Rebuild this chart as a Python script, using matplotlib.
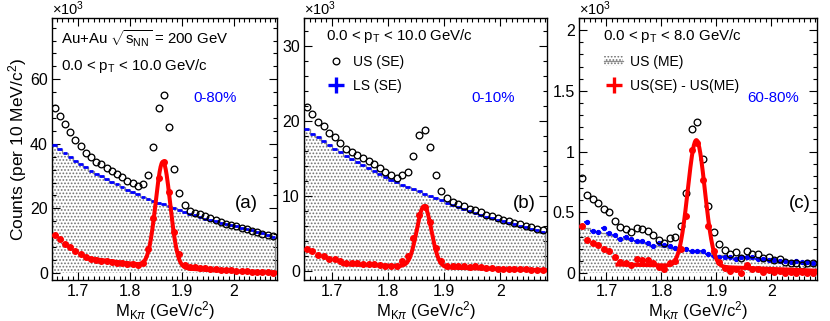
import numpy as np
import matplotlib
matplotlib.use('Agg')
import matplotlib.pyplot as plt
from matplotlib.ticker import MultipleLocator, FormatStrFormatter
from matplotlib.patches import Patch
from matplotlib.lines import Line2D

plt.rcParams['font.family'] = ['Liberation Sans', 'DejaVu Sans']
plt.rcParams['mathtext.fontset'] = 'custom'
plt.rcParams['mathtext.rm'] = 'Liberation Sans'
plt.rcParams['mathtext.it'] = 'Liberation Sans:italic'
plt.rcParams['mathtext.bf'] = 'Liberation Sans:bold'
plt.rcParams['hatch.linewidth'] = 0.8

# bin centres of M_Kpi (GeV/c^2), 10 MeV bins
mass = [1.655, 1.665, 1.675, 1.685, 1.695, 1.705, 1.715, 1.725, 1.735, 1.745,
        1.755, 1.765, 1.775, 1.785, 1.795, 1.805, 1.815, 1.825, 1.835, 1.845,
        1.855, 1.865, 1.875, 1.885, 1.895, 1.905, 1.915, 1.925, 1.935, 1.945,
        1.955, 1.965, 1.975, 1.985, 1.995, 2.005, 2.015, 2.025, 2.035, 2.045,
        2.055, 2.065, 2.075]

# panel (a) 0-80%, counts x10^3
us_a = [51.0, 48.5, 46.0, 43.6, 41.3, 39.2, 37.2, 35.8, 34.4, 33.6,
        32.6, 31.7, 30.8, 29.7, 28.6, 27.9, 26.9, 27.4, 30.2, 38.9,
        51.0, 55.2, 45.2, 32.3, 24.7, 20.9, 19.3, 18.7, 18.2, 17.5,
        16.9, 16.4, 15.7, 15.2, 14.8, 14.4, 14.0, 13.6, 13.1, 12.7,
        12.2, 11.8, 11.4]
ls_a = [39.5, 38.3, 37.1, 35.9, 34.8, 33.7, 32.7, 31.7, 30.8, 29.9,
        29.0, 28.2, 27.4, 26.6, 25.8, 25.0, 24.3, 23.6, 23.0, 22.4,
        21.8, 21.2, 20.6, 20.0, 19.4, 18.8, 18.3, 17.8, 17.3, 16.8,
        16.4, 16.0, 15.6, 15.2, 14.8, 14.4, 14.0, 13.6, 13.2, 12.8,
        12.3, 11.8, 11.2]
me_a = ls_a
sig_a = [11.7, 10.4, 9.1, 8.0, 6.8, 5.8, 5.0, 4.4, 4.0, 3.8,
         3.6, 3.4, 3.1, 3.0, 2.8, 2.7, 2.6, 3.2, 7.5, 17.0,
         29.5, 34.5, 25.0, 12.8, 5.8, 2.6, 1.9, 1.8, 1.6, 1.5,
         1.3, 1.2, 1.0, 0.9, 0.8, 0.7, 0.6, 0.5, 0.4, 0.3,
         0.3, 0.2, 0.1]
# fit: amplitude, mean, sigma, residual bkg p0, p1, p2 (in m - 1.72)
fit_a = [32.5, 1.8635, 0.014, 4.5, -21.6, 26.1]

# panel (b) 0-10%
us_b = [21.8, 20.9, 19.9, 19.3, 18.4, 17.9, 17.1, 16.3, 15.9, 15.5,
        15.0, 14.6, 14.2, 13.7, 13.2, 12.8, 12.4, 12.8, 13.2, 15.3,
        18.1, 18.8, 16.5, 12.8, 10.7, 9.7, 9.2, 8.9, 8.6, 8.2,
        8.1, 7.8, 7.5, 7.3, 7.0, 6.8, 6.6, 6.4, 6.2, 6.0,
        5.8, 5.6, 5.5]
ls_b = [18.9, 18.3, 17.8, 17.3, 16.8, 16.3, 15.8, 15.3, 14.9, 14.5,
        14.1, 13.7, 13.3, 12.9, 12.5, 12.1, 11.8, 11.5, 11.2, 10.9,
        10.6, 10.3, 10.0, 9.7, 9.4, 9.1, 8.8, 8.5, 8.2, 8.0,
        7.7, 7.5, 7.2, 7.0, 6.8, 6.6, 6.4, 6.2, 6.0, 5.8,
        5.6, 5.4, 5.2]
me_b = ls_b
sig_b = [2.9, 2.6, 2.1, 2.0, 1.6, 1.6, 1.3, 1.0, 1.0, 1.0,
         0.9, 0.9, 0.9, 0.8, 0.7, 0.7, 0.6, 1.3, 2.0, 4.4,
         7.5, 8.5, 6.5, 3.1, 1.3, 0.6, 0.7, 0.6, 0.6, 0.5,
         0.6, 0.5, 0.4, 0.4, 0.3, 0.3, 0.3, 0.2, 0.2, 0.2,
         0.1, 0.1, 0.1]
fit_b = [8.1, 1.864, 0.013, 0.9, -2.61, 1.07]

# panel (c) 60-80%
us_c = [0.78, 0.64, 0.61, 0.58, 0.53, 0.50, 0.43, 0.38, 0.36, 0.34,
        0.37, 0.36, 0.35, 0.31, 0.27, 0.25, 0.29, 0.30, 0.39, 0.66,
        1.19, 1.24, 0.94, 0.55, 0.34, 0.24, 0.19, 0.16, 0.175, 0.125,
        0.18, 0.155, 0.155, 0.125, 0.134, 0.107, 0.12, 0.093, 0.08, 0.085,
        0.066, 0.08, 0.08]
ls_c = [0.39, 0.42, 0.35, 0.34, 0.37, 0.33, 0.31, 0.28, 0.30, 0.28,
        0.26, 0.26, 0.25, 0.22, 0.25, 0.23, 0.22, 0.21, 0.20, 0.20,
        0.18, 0.18, 0.18, 0.16, 0.14, 0.13, 0.13, 0.13, 0.12, 0.13,
        0.13, 0.13, 0.12, 0.12, 0.11, 0.11, 0.10, 0.10, 0.09, 0.10,
        0.09, 0.09, 0.08]
me_c = [0.385, 0.37, 0.355, 0.34, 0.33, 0.315, 0.305, 0.29, 0.28, 0.27,
        0.26, 0.25, 0.24, 0.232, 0.224, 0.216, 0.208, 0.20, 0.194, 0.187,
        0.18, 0.174, 0.168, 0.162, 0.156, 0.15, 0.145, 0.14, 0.135, 0.13,
        0.125, 0.12, 0.116, 0.112, 0.108, 0.104, 0.10, 0.096, 0.092, 0.088,
        0.084, 0.08, 0.077]
sig_c = [0.39, 0.27, 0.25, 0.23, 0.20, 0.185, 0.13, 0.09, 0.08, 0.07,
         0.115, 0.11, 0.11, 0.08, 0.05, 0.03, 0.08, 0.10, 0.20, 0.47,
         1.01, 1.07, 0.77, 0.39, 0.18, 0.09, 0.045, 0.02, 0.035, 0.0,
         0.065, 0.03, 0.034, 0.008, 0.022, 0.006, 0.02, 0.0, 0.01, 0.0,
         0.005, 0.0, 0.0]
fit_c = [1.04, 1.8635, 0.0155, 0.07, -0.085, -0.15]

W, H = 830, 321
HATCH = '.....'
HATCH_COL = '0.45'


def fit_curve(m, p):
    g = p[0] * np.exp(-0.5 * ((m - p[1]) / p[2]) ** 2)
    return g + p[3] + p[4] * (m - 1.72) + p[5] * (m - 1.72) ** 2


def draw_panel(ax, us, ls, me, sig, fitp, ylim, major, minor, blue_marker):
    x = np.array(mass)
    edges = np.append(x - 0.005, x[-1] + 0.005)
    ax.stairs(me, edges, fill=True, facecolor='none', edgecolor=HATCH_COL,
              hatch=HATCH, linewidth=0, zorder=1)
    ax.stairs(me, edges, color='0.55', linewidth=0.9, zorder=2)
    if blue_marker:
        ax.errorbar(x, ls, xerr=0.005, yerr=0.012, fmt='o', ms=2.8, color='blue',
                    ecolor='blue', elinewidth=1.2, capsize=0, zorder=3)
    else:
        ax.errorbar(x, ls, xerr=0.0045, fmt='none', ecolor='blue',
                    elinewidth=2.0, capsize=0, zorder=3)
    ax.plot(x, us, 'o', ms=4.8, mfc='none', mec='black', mew=0.95, zorder=4)
    ax.plot(x, sig, 'o', ms=4.0, color='red', zorder=5)
    mf = np.linspace(1.72, 2.08, 400)
    ax.plot(mf, fit_curve(mf, fitp), color='red', lw=2.9, zorder=6)

    ax.set_xlim(1.65, 2.083)
    ax.set_ylim(*ylim)
    ax.xaxis.set_major_locator(MultipleLocator(0.1))
    ax.xaxis.set_minor_locator(MultipleLocator(0.01))
    ax.xaxis.set_major_formatter(FormatStrFormatter('%g'))
    ax.yaxis.set_major_locator(MultipleLocator(major))
    ax.yaxis.set_minor_locator(MultipleLocator(minor))
    ax.yaxis.set_major_formatter(FormatStrFormatter('%g'))
    ax.tick_params(which='both', direction='in', top=True, right=True,
                   labelsize=11.5, width=0.8, pad=3)
    ax.tick_params(which='major', length=6)
    ax.tick_params(which='minor', length=3)
    for s in ax.spines.values():
        s.set_linewidth(1.0)
    ax.set_xlabel(r'M$_{\mathrm{K}\pi}$ (GeV/c$^{2}$)', fontsize=12, labelpad=0)


def px(x, y):
    return x / W, 1 - y / H


fig = plt.figure(figsize=(W / 100, H / 100), dpi=100)

ax_a = fig.add_axes([52 / W, 41 / H, 225 / W, 262 / H])
ax_b = fig.add_axes([304 / W, 41 / H, 243 / W, 262 / H])
ax_c = fig.add_axes([579 / W, 41 / H, 238 / W, 262 / H])

draw_panel(ax_a, us_a, ls_a, me_a, sig_a, fit_a, (-2.2, 79), 20, 4, False)
draw_panel(ax_b, us_b, ls_b, me_b, sig_b, fit_b, (-1.2, 33.7), 10, 2, False)
draw_panel(ax_c, us_c, ls_c, me_c, sig_c, fit_c, (-0.057, 2.1), 0.5, 0.1, True)

ax_a.set_ylabel('Counts (per 10 MeV/c$^{2}$)', fontsize=12.5, labelpad=1)

# x10^3 labels
for xl in (52, 304, 579):
    fig.text(*px(xl, 15), r'$\times$10$^{3}$', fontsize=10.5, ha='left', va='baseline')

# panel texts
fig.text(*px(61, 44), r'Au+Au $\sqrt{\mathrm{s}_{\mathrm{NN}}}$ = 200 GeV', fontsize=10.8)
fig.text(*px(61, 70), r'0.0 < p$_{\mathrm{T}}$ < 10.0 GeV/c', fontsize=10.8)
fig.text(*px(326, 40), r'0.0 < p$_{\mathrm{T}}$ < 10.0 GeV/c', fontsize=10.8)
fig.text(*px(603, 40), r'0.0 < p$_{\mathrm{T}}$ < 8.0 GeV/c', fontsize=10.8)

fig.text(*px(193, 102), '0-80%', fontsize=10.8, color='blue')
fig.text(*px(471, 102), '0-10%', fontsize=10.8, color='blue')
fig.text(*px(747, 102), '60-80%', fontsize=10.8, color='blue')

fig.text(*px(235, 204), '(a)', fontsize=13.5, va='center')
fig.text(*px(513, 203), '(b)', fontsize=13.5, va='center')
fig.text(*px(789, 203), '(c)', fontsize=13.5, va='center')

# legends
h_us = Line2D([], [], ls='none', marker='o', ms=4.8, mfc='none', mec='black', mew=0.95)
h_ls = Line2D([], [], ls='none', marker='+', ms=11, mew=2.4, color='blue')
ax_b.legend([h_us, h_ls], ['US (SE)', 'LS (SE)'], loc='upper left',
            bbox_to_anchor=(0.065, 0.885), frameon=False, fontsize=10,
            handlelength=1.4, handletextpad=0.5, labelspacing=0.7, borderpad=0)

h_me = (Patch(facecolor='none', edgecolor=HATCH_COL, hatch=HATCH, lw=0),
        Line2D([], [], color='0.55', lw=0.9))
h_sub = Line2D([], [], ls='none', marker='+', ms=11, mew=2.4, color='red')
ax_c.legend([h_me, h_sub], ['US (ME)', 'US(SE) - US(ME)'], loc='upper left',
            bbox_to_anchor=(0.075, 0.885), frameon=False, fontsize=10,
            handlelength=1.4, handletextpad=0.5, labelspacing=0.7, borderpad=0)

fig.savefig('out.png', dpi=100)
